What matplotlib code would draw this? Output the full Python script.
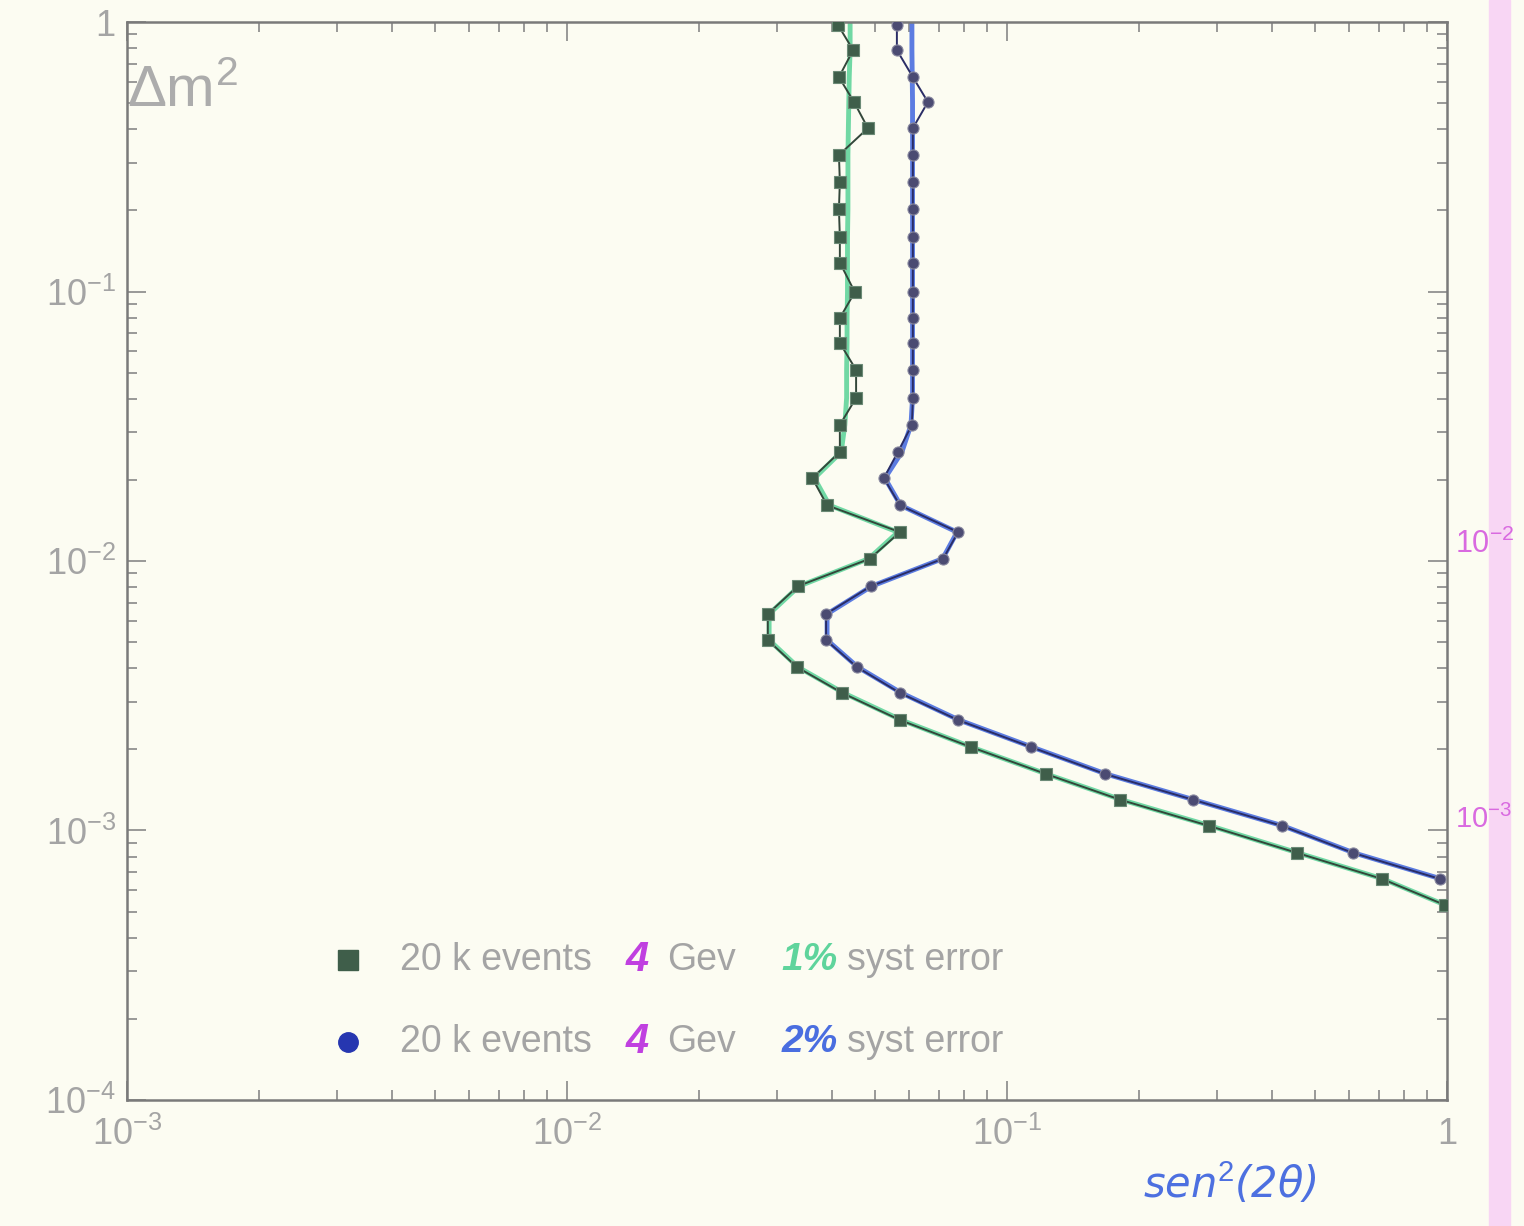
import math
import matplotlib.pyplot as plt
from matplotlib.ticker import LogLocator, FuncFormatter, NullFormatter
from matplotlib.patches import Rectangle
from matplotlib.lines import Line2D

plt.rcParams['font.family'] = ['Liberation Sans', 'DejaVu Sans']
plt.rcParams['mathtext.fontset'] = 'custom'
plt.rcParams['mathtext.rm'] = 'Liberation Sans'
plt.rcParams['mathtext.it'] = 'Liberation Sans:italic'

# delta m^2 grid (shared by both scans)
dm2 = [0.975, 0.787, 0.625, 0.505, 0.404, 0.321, 0.255, 0.202, 0.159, 0.128,
       0.0995, 0.0798, 0.0644, 0.0512, 0.0403, 0.0320, 0.0254, 0.0203, 0.0161, 0.0128,
       0.0102, 0.00807, 0.00636, 0.00509, 0.00404, 0.00324, 0.00257, 0.00204, 0.00162,
       0.00130, 0.00104, 0.000826, 0.000661, 0.000529]

# 1% syst error - squares
sq_x = [0.0413, 0.0447, 0.0415, 0.0449, 0.0483, 0.0415, 0.0417, 0.0415, 0.0417, 0.0417,
        0.0451, 0.0417, 0.0417, 0.0454, 0.0454, 0.0417, 0.0417, 0.0361, 0.0390, 0.0571,
        0.0488, 0.0335, 0.0286, 0.0286, 0.0333, 0.0422, 0.0571, 0.0828, 0.1227, 0.181,
        0.288, 0.456, 0.712, 0.989]
# smooth green curve drawn under the points
sq_fit = [0.0440, 0.0440, 0.0438, 0.0437, 0.0436, 0.0435, 0.0435, 0.0435, 0.0434, 0.0434,
          0.0434, 0.0433, 0.0433, 0.0432, 0.0432, 0.0428, 0.0420, 0.0365, 0.0395, 0.0565,
          0.0485, 0.0337, 0.0288, 0.0288, 0.0335, 0.0425, 0.0575, 0.0830, 0.123, 0.182,
          0.290, 0.458, 0.715, 0.99]

# 2% syst error - circles
ci_x = [0.0562, 0.0562, 0.0611, 0.0661, 0.0611, 0.0611, 0.0611, 0.0611, 0.0611, 0.0611,
        0.0611, 0.0611, 0.0611, 0.0611, 0.0611, 0.0608, 0.0565, 0.0525, 0.0571, 0.0774,
        0.0716, 0.0491, 0.0388, 0.0388, 0.0456, 0.0571, 0.0774, 0.1134, 0.167, 0.265,
        0.422, 0.611, 0.964]
ci_fit = [0.0608, 0.0608, 0.0609, 0.0610, 0.0610, 0.0610, 0.0610, 0.0610, 0.0610, 0.0610,
          0.0610, 0.0610, 0.0610, 0.0610, 0.0610, 0.0605, 0.0577, 0.0528, 0.0573, 0.0770,
          0.0714, 0.0493, 0.0390, 0.0390, 0.0458, 0.0575, 0.0778, 0.114, 0.168, 0.266,
          0.424, 0.614, 0.97]

bg = '#fcfcf2'
fig = plt.figure(figsize=(15.24, 12.26), dpi=100, facecolor=bg)
ax = fig.add_axes([0.0833, 0.1028, 0.8662, 0.8792], facecolor=bg)

# pink highlighter band on the right edge (behind everything)
fig.patches.append(Rectangle((0.977, 0), 0.014, 1, transform=fig.transFigure,
                             color='#f8d6f4', zorder=-5))

ax.plot(sq_fit, dm2, color='#62d59c', lw=3.5, alpha=0.9, zorder=2)
ax.plot(sq_x, dm2, color='#33473a', lw=1.4, marker='s', ms=8,
        mfc='#3f5e4a', mec='#6b8a76', mew=0.8, zorder=3)
ax.plot(ci_fit, dm2[:len(ci_fit)], color='#4a6ee0', lw=3.5, alpha=0.9, zorder=2)
ax.plot(ci_x, dm2[:len(ci_x)], color='#2a2d66', lw=1.4, marker='o', ms=8,
        mfc='#4b4b72', mec='#8a8aa0', mew=0.8, zorder=3)

ax.set_xscale('log')
ax.set_yscale('log')
ax.set_xlim(1e-3, 1)
ax.set_ylim(1e-4, 1)


def fmt(v, pos):
    if abs(v - 1) < 1e-9:
        return '1'
    return r'$10^{%d}$' % round(math.log10(v))


for axis in (ax.xaxis, ax.yaxis):
    axis.set_major_locator(LogLocator(base=10, numticks=10))
    axis.set_minor_locator(LogLocator(base=10, subs=range(2, 10), numticks=20))
    axis.set_major_formatter(FuncFormatter(fmt))
    axis.set_minor_formatter(NullFormatter())

ax.tick_params(which='both', direction='in', top=True, right=True, color='#888888',
               labelcolor='#a4a4a4', labelsize=26, width=1.2)
ax.tick_params(which='major', length=14)
ax.tick_params(which='minor', length=7)
ax.tick_params(axis='x', pad=12)
ax.tick_params(axis='y', pad=8)
for s in ax.spines.values():
    s.set_color('#7a7a7a')
    s.set_linewidth(1.8)

ax.text(0.0, 0.96, r'$\Delta$m$^2$', transform=ax.transAxes, ha='left', va='top',
        fontsize=42, color='#acacac')

# handwritten-style annotations
fig.text(0.807, 0.034, 'sen$^2$(2θ)', fontsize=30, color='#4d70e0', style='italic',
         ha='center', va='center', family=['DejaVu Sans'])
ax.text(1.006, 1.15e-2, r'$10^{-2}$', transform=ax.get_yaxis_transform(),
        fontsize=22, color='#d96ae0', ha='left', va='center', zorder=5)
ax.text(1.006, 1.1e-3, r'$10^{-3}$', transform=ax.get_yaxis_transform(),
        fontsize=21, color='#d96ae0', ha='left', va='center', zorder=5)

# hand-made legend
rows = [(0.217, 's', '#3f5e4a', '1%', '#5fd49c'),
        (0.150, 'o', '#2636b0', '2%', '#4a6ee0')]
for fy, mk, mc, pct, pc in rows:
    fig.add_artist(Line2D([0.2283], [fy], marker=mk, ms=14, color=mc, mec=mc,
                          transform=fig.transFigure))
    fig.text(0.2625, fy, '20 k events', fontsize=27, color='#a4a4a4', va='center')
    fig.text(0.418, fy, '4', fontsize=30, color='#c040e0', style='italic',
             weight='bold', va='center', ha='center')
    fig.text(0.438, fy, 'Gev', fontsize=27, color='#a4a4a4', va='center')
    fig.text(0.513, fy, pct, fontsize=28, color=pc, style='italic', weight='bold',
             va='center')
    fig.text(0.556, fy, 'syst error', fontsize=27, color='#a4a4a4', va='center')

fig.savefig('out.png', dpi=100, facecolor=bg)
